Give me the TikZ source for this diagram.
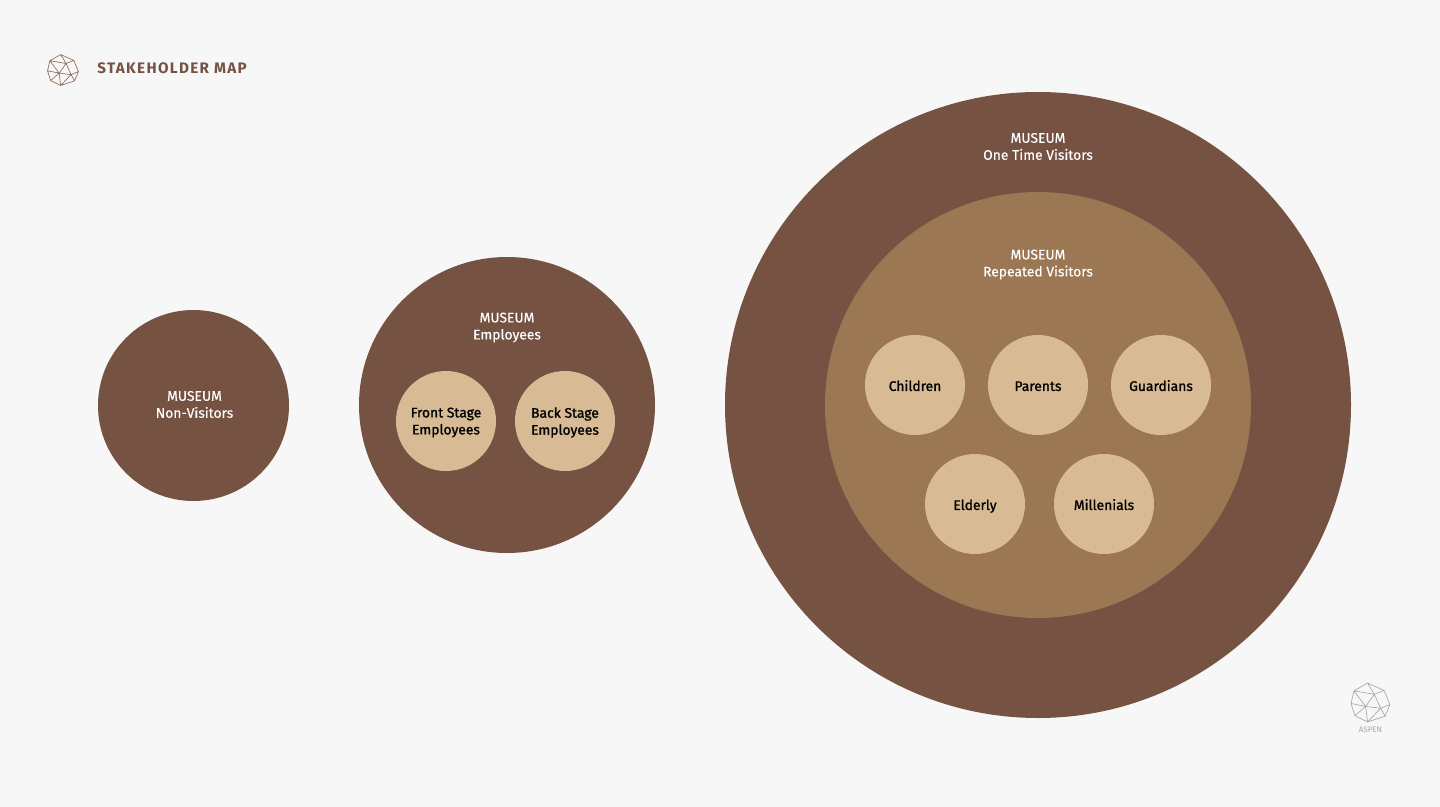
\documentclass[tikz,border=0pt]{standalone}
\usepackage{fontspec}
\setmainfont{Fira Sans}
\newfontfamily\titlefont[LetterSpace=9]{Fira Sans}
\newfontfamily\lblfont[FakeBold=0.2]{Fira Sans}
\newfontfamily\innerfont[FakeBold=1.2]{Fira Sans}
\definecolor{bgcol}{HTML}{F7F7F7}
\definecolor{darkbrown}{HTML}{765243}
\definecolor{midbrown}{HTML}{9B7853}
\definecolor{lightbrown}{HTML}{D8BB94}
\definecolor{logogrey}{HTML}{A8A8A8}
\definecolor{logobrown}{HTML}{8F6A5B}
\tikzset{
  disc/.style={circle,inner sep=0pt,minimum size=#1*0.75pt},
  lbl/.style={align=center,text=white,inner sep=0pt,font=\lblfont\fontsize{10.4}{12.75}\selectfont},
  inner/.style={disc=100,fill=lightbrown,align=center,text=black,font=\innerfont\fontsize{10.4}{12.75}\selectfont},
  innerlbl/.style={align=center,text=black,inner sep=0pt,font=\innerfont\fontsize{10.4}{12.75}\selectfont},
  single/.style={inner,text height=9.4pt,text depth=0.5pt},
  logo/.pic={
    \draw[line width=0.5pt,line join=round,pic actions]
      (-0.15,-1) -- (0.7,-0.62) -- (1,0.1) -- (0.75,0.7) -- (-0.15,1) -- (-0.8,0.68) -- (-1,0.05) -- (-0.85,-0.6) -- cycle
      (-0.15,-1) -- (0.2,-0.42) -- (0.7,-0.62)
      (-0.85,-0.6) -- (0.2,-0.42) -- (-0.25,0.2) -- (-0.85,-0.6)
      (0.2,-0.42) -- (0.52,0.3) -- (1,0.1)
      (-1,0.05) -- (-0.25,0.2) -- (0.52,0.3) -- (0.75,0.7)
      (-0.8,0.68) -- (-0.25,0.2) -- (-0.15,1) -- (0.52,0.3);
  }
}
\begin{document}
\begin{tikzpicture}[x=0.75pt,y=-0.75pt]
\useasboundingbox[fill=bgcol] (0,0) rectangle (1440,807);
% title
\coordinate (titlelogo) at (63,70);
\pic[draw=logobrown,x=11.6pt,y=-11.6pt] at (titlelogo) {logo};
\node[anchor=west,inner sep=0pt,text=darkbrown,font=\fontsize{11.4}{14}\titlefont\bfseries] (title) at (97,68) {STAKEHOLDER MAP};
% non-visitors
\node[disc=191,fill=darkbrown] (nonvis) at (193.5,405.5) {};
\node[lbl] (nonvislbl) at (194.5,404.5) {MUSEUM\\Non-Visitors};
% employees
\node[disc=296,fill=darkbrown] (empl) at (507,405) {};
\node[lbl] (empllbl) at (507,327.5) {MUSEUM\\Employees};
\node[disc=100,fill=lightbrown] (front) at (446,421) {};
\node[innerlbl] (frontlbl) at (446,422.5) {Front Stage\\Employees};
\node[disc=100,fill=lightbrown] (back) at (565,421) {};
\node[innerlbl] (backlbl) at (565,422.5) {Back Stage\\Employees};
% visitors
\node[disc=626,fill=darkbrown] (onetime) at (1038,405) {};
\node[lbl] (onetimelbl) at (1038,146.5) {MUSEUM\\One Time Visitors};
\node[disc=426,fill=midbrown] (repeated) at (1038,405) {};
\node[lbl] (repeatedlbl) at (1038,264.5) {MUSEUM\\Repeated Visitors};
\node[single] (children) at (915,385) {Children};
\node[single] (parents) at (1038,385) {Parents};
\node[single] (guardians) at (1161,385) {Guardians};
\node[single] (elderly) at (975,504) {Elderly};
\node[single] (millenials) at (1104,504) {Millenials};
% corner logo
\coordinate (cornerlogo) at (1370.5,702.5);
\pic[draw=logogrey,x=14.6pt,y=-14.6pt] at (cornerlogo) {logo};
\node[inner sep=0pt,text=logogrey,font=\fontsize{6}{7}\selectfont] (aspen) at (1370.5,730) {ASPEN};
\end{tikzpicture}
\end{document}
